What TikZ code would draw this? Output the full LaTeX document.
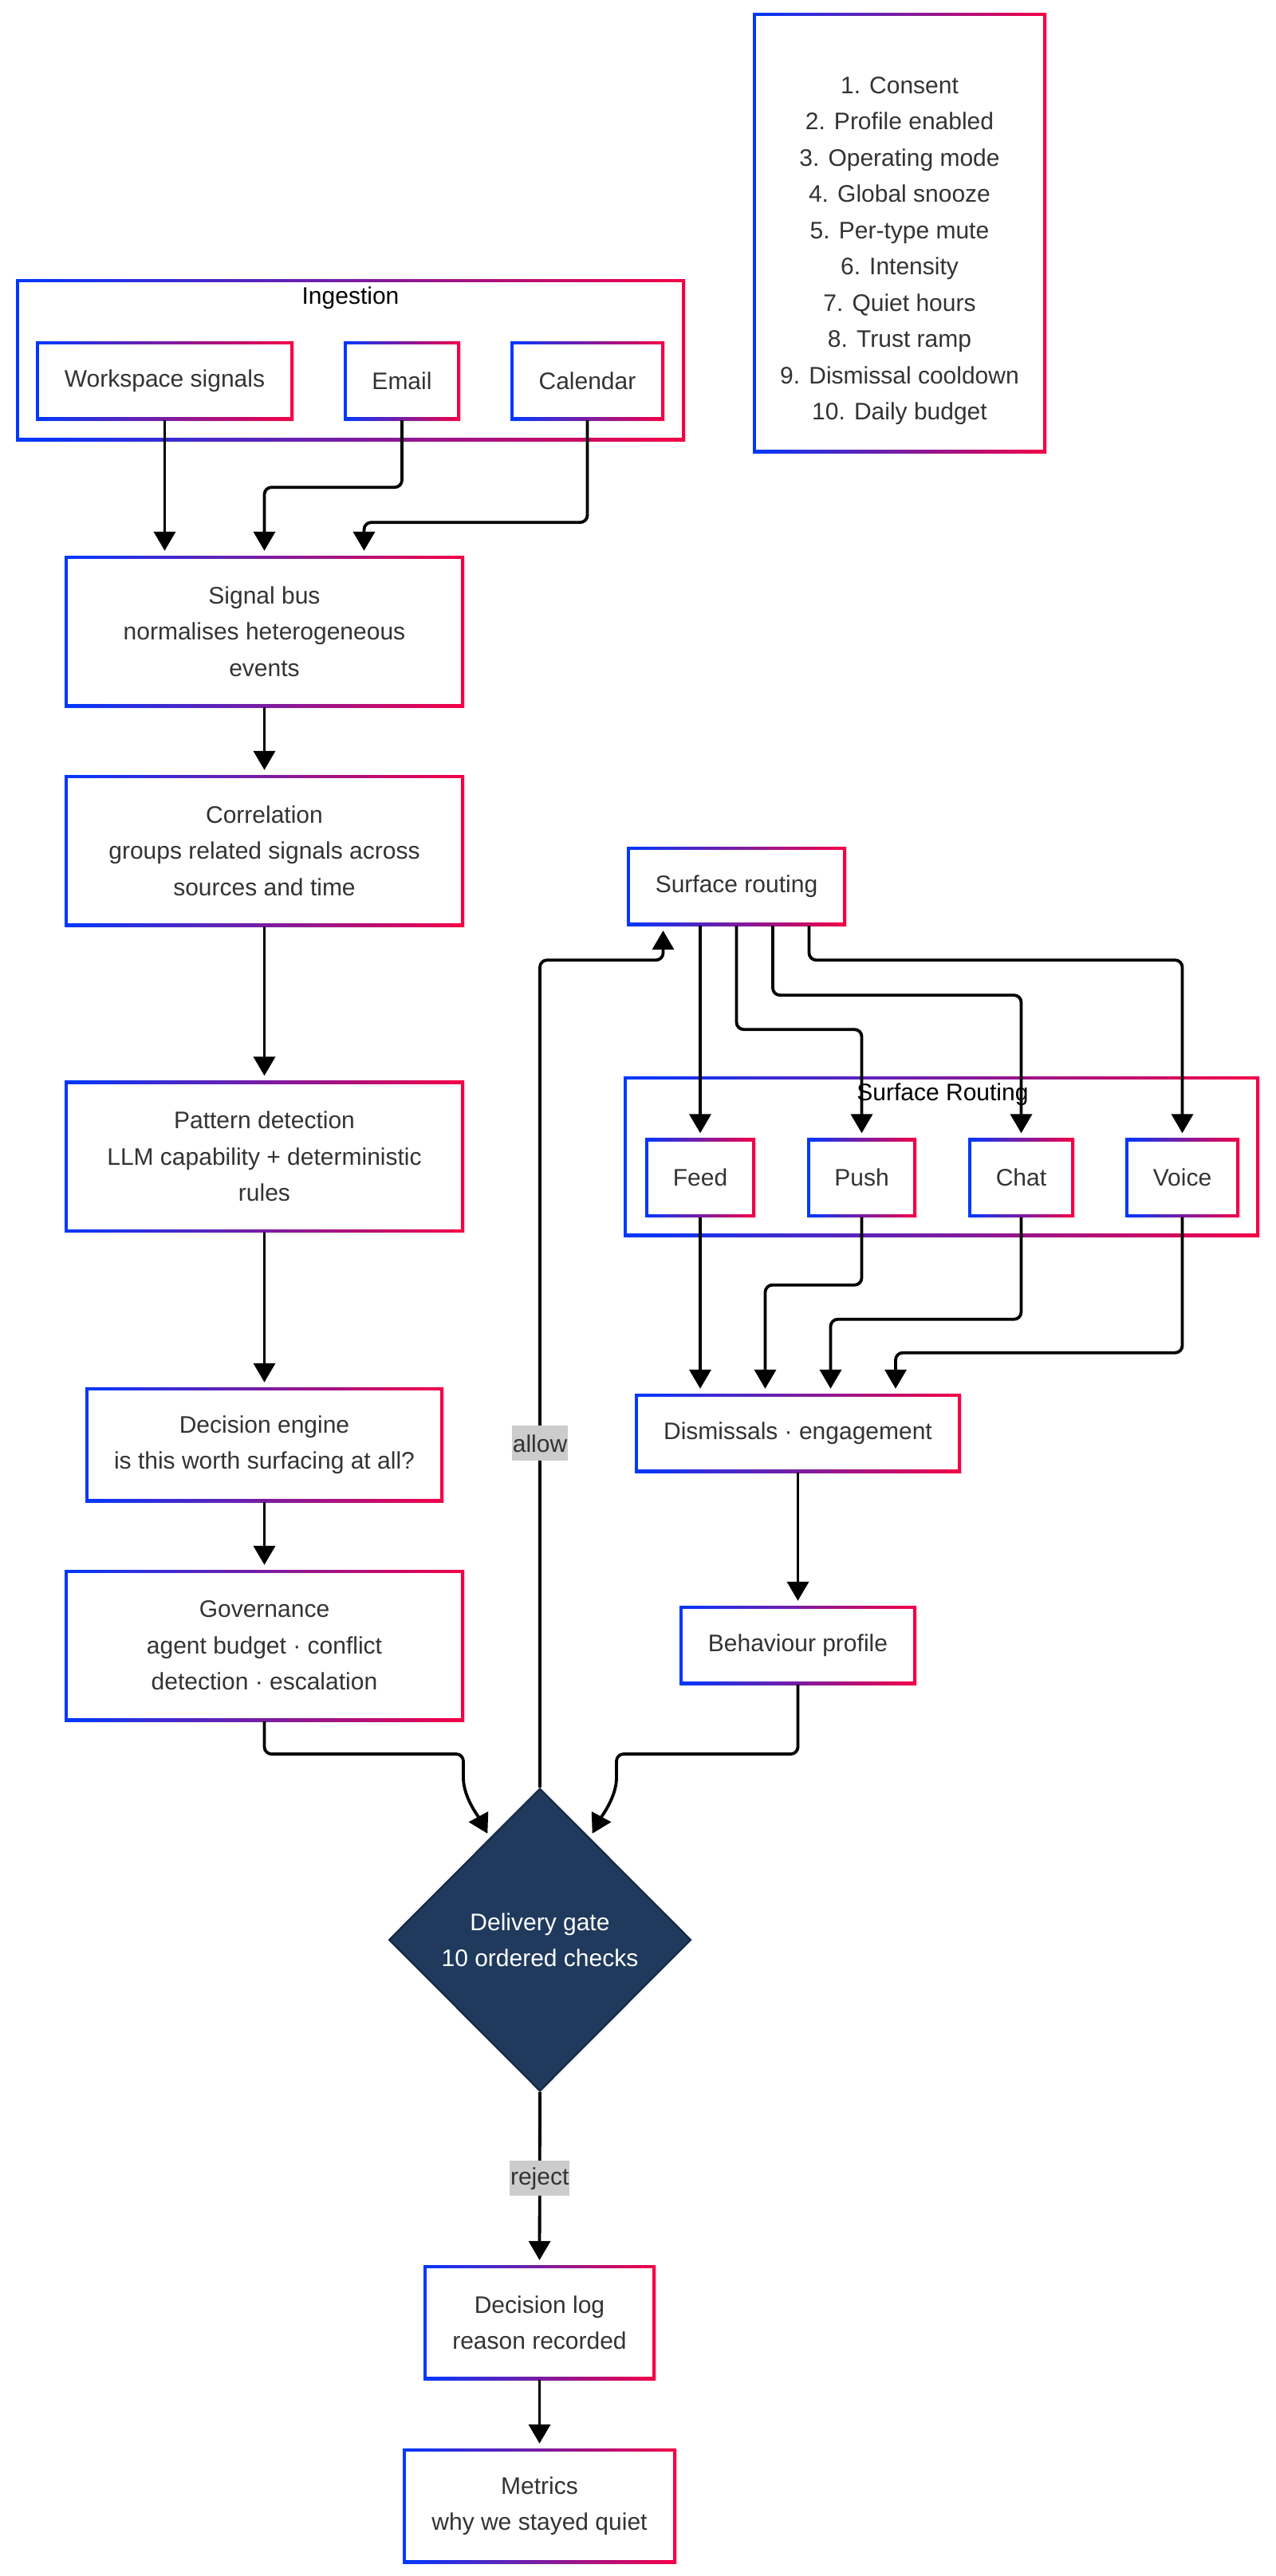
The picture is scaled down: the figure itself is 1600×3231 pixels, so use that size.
\documentclass[tikz,border=0pt]{standalone}
\usepackage{fontspec}
\setmainfont{Liberation Sans}
\usepackage{tikz}
\usetikzlibrary{arrows.meta, calc, shapes.geometric, shadows}

\definecolor{gblue}{RGB}{0,56,255}
\definecolor{gred}{RGB}{245,0,70}
\definecolor{ink}{RGB}{51,51,51}
\definecolor{navy}{RGB}{31,58,93}
\definecolor{navyline}{RGB}{20,40,68}
\definecolor{lblgray}{RGB}{204,204,204}

\tikzset{
  gbox/.style={rectangle, inner sep=0pt, align=center, text=ink,
    left color=gblue, right color=gred,
    drop shadow={shadow xshift=2pt, shadow yshift=-2pt, opacity=0.12},
    path picture={\fill [white] ([xshift=4pt,yshift=-4pt]path picture bounding box.north west)
                                rectangle ([xshift=-4pt,yshift=4pt]path picture bounding box.south east);}},
  gatebox/.style={diamond, aspect=1, inner sep=0pt, align=center, text=white,
    fill=navy, draw=navyline, line width=2pt,
    drop shadow={shadow xshift=2pt, shadow yshift=-2pt, opacity=0.12}},
  flow/.style={line width=3.8pt, rounded corners=9pt, shorten >=6pt,
    -{Triangle[length=24pt,width=27pt]}},
  edgelbl/.style={sharp corners, fill=lblgray, text=ink, inner xsep=1pt, minimum height=44pt},
  grouptitle/.style={text=black},
}

\begin{document}
\begin{tikzpicture}[x=1pt, y=-1pt, font=\fontsize{30}{45.5}\selectfont]

        \useasboundingbox (0,0) rectangle (1600,3231);

        %Ingestion group
        \node [gbox, minimum width=839pt, minimum height=203pt] (ingest)  at (439.5,451.5) {};
        \node [grouptitle] (ingesttitle) at ($(ingest.north)+(0,24)$) {Ingestion};
        \node [gbox, minimum width=323pt, minimum height=99pt]  (wsig)    at (206.5,477.5) {Workspace signals};
        \node [gbox, minimum width=146pt, minimum height=99pt]  (email)   at (504,477.5)   {Email};
        \node [gbox, minimum width=193pt, minimum height=99pt]  (cal)     at (736.5,477.5) {Calendar};

        %Gate checks
        \node [gbox, minimum width=368pt, minimum height=552pt] (legend)  at (1128,292) {};
        \node [align=center, text=ink] (checks) at ($(legend.center)+(0,22.75)$)
              {1. Consent\\2. Profile enabled\\3. Operating mode\\4. Global snooze\\5. Per-type mute\\
               6. Intensity\\7. Quiet hours\\8. Trust ramp\\9. Dismissal cooldown\\10. Daily budget};

        %Main pipeline
        \node [gbox, minimum width=501pt, minimum height=190pt] (sigbus)   at (331.5,792)    {Signal bus\\normalises heterogeneous\\events};
        \node [gbox, minimum width=501pt, minimum height=190pt] (correl)   at (331.5,1067)   {Correlation\\groups related signals across\\sources and time};
        \node [gbox, minimum width=501pt, minimum height=190pt] (pattern)  at (331.5,1450.5) {Pattern detection\\LLM capability + deterministic\\rules};
        \node [gbox, minimum width=449pt, minimum height=144pt] (decision) at (331.5,1812)   {Decision engine\\is this worth surfacing at all?};
        \node [gbox, minimum width=501pt, minimum height=190pt] (govern)   at (331.5,2064)   {Governance\\agent budget · conflict\\detection · escalation};
        \node [gatebox, minimum width=379pt, minimum height=380pt] (gate)  at (677,2433)     {Delivery gate\\10 ordered checks};
        \node [gbox, minimum width=291pt, minimum height=144pt] (declog)   at (676.5,2913)   {Decision log\\reason recorded};
        \node [gbox, minimum width=343pt, minimum height=144pt] (metrics)  at (676.5,3143)   {Metrics\\why we stayed quiet};

        %Surface routing group
        \node [gbox, minimum width=275pt, minimum height=99pt]  (surfroute) at (923.5,1111.5) {Surface routing};
        \node [gbox, minimum width=797pt, minimum height=201pt] (surfgrp)   at (1180.5,1450.5) {};
        \node [grouptitle] (surftitle) at ($(surfgrp.north)+(1.5,23)$) {Surface Routing};
        \node [gbox, minimum width=138pt, minimum height=99pt]  (feed)    at (878,1477)    {Feed};
        \node [gbox, minimum width=137pt, minimum height=99pt]  (push)    at (1080.5,1477) {Push};
        \node [gbox, minimum width=133pt, minimum height=99pt]  (chat)    at (1280.5,1477) {Chat};
        \node [gbox, minimum width=143pt, minimum height=99pt]  (voice)   at (1482.5,1477) {Voice};

        %Feedback
        \node [gbox, minimum width=409pt, minimum height=99pt]  (dismiss) at (1000.5,1797.5) {Dismissals · engagement};
        \node [gbox, minimum width=297pt, minimum height=99pt]  (behav)   at (1000.5,2063.5) {Behaviour profile};

        %Gate inputs
        \coordinate (gatein1) at ($(gate.north)!0.33!(gate.west)$);
        \coordinate (gatein2) at ($(gate.north)!0.33!(gate.east)$);

        %Ingestion to signal bus
        \draw [flow] (wsig.south)  -- ($(sigbus.north)+(-125,0)$);
        \draw [flow] (email.south) -- ++(0,84)  -| (sigbus.north);
        \draw [flow] (cal.south)   -- ++(0,128) -| ($(sigbus.north)+(125,0)$);

        %Pipeline
        \draw [flow] (sigbus.south)   -- (correl.north);
        \draw [flow] (correl.south)   -- (pattern.north);
        \draw [flow] (pattern.south)  -- (decision.north);
        \draw [flow] (decision.south) -- (govern.north);
        \draw [flow] (govern.south) |- ($(gate.north)+(-96,-42)$) -- ++(0,21)
                     .. controls +(0,33) and +(-14,-26) .. (gatein1);
        \draw [flow] (behav.south)  |- ($(gate.north)+(96,-42)$)  -- ++(0,21)
                     .. controls +(0,33) and +(14,-26) .. (gatein2);

        %Allow and reject
        \draw [flow] (gate.north) |- ($(surfroute.south)+(-92,43)$)
                     node [edgelbl, pos=0.208] (allowlbl) {allow}
                     -- ($(surfroute.south)+(-92,0)$);
        \draw [flow] (gate.south)   -- (declog.north) node [edgelbl, midway] (rejectlbl) {reject};
        \draw [flow] (declog.south) -- (metrics.north);

        %Routing fan out
        \draw [flow] ($(surfroute.south)+(-45.5,0)$) -- (feed.north);
        \draw [flow] (surfroute.south)                -- ++(0,130) -| (push.north);
        \draw [flow] ($(surfroute.south)+(45.5,0)$)  -- ++(0,87)  -| (chat.north);
        \draw [flow] ($(surfroute.south)+(91,0)$)    -- ++(0,43)  -| (voice.north);

        %Routing fan in
        \draw [flow] (feed.south)  -- ($(dismiss.north)+(-122.5,0)$);
        \draw [flow] (push.south)  -- ++(0,85)  -| ($(dismiss.north)+(-41,0)$);
        \draw [flow] (chat.south)  -- ++(0,128) -| ($(dismiss.north)+(41,0)$);
        \draw [flow] (voice.south) -- ++(0,170) -| ($(dismiss.north)+(122.5,0)$);
        \draw [flow] (dismiss.south) -- (behav.north);

\end{tikzpicture}
\end{document}
